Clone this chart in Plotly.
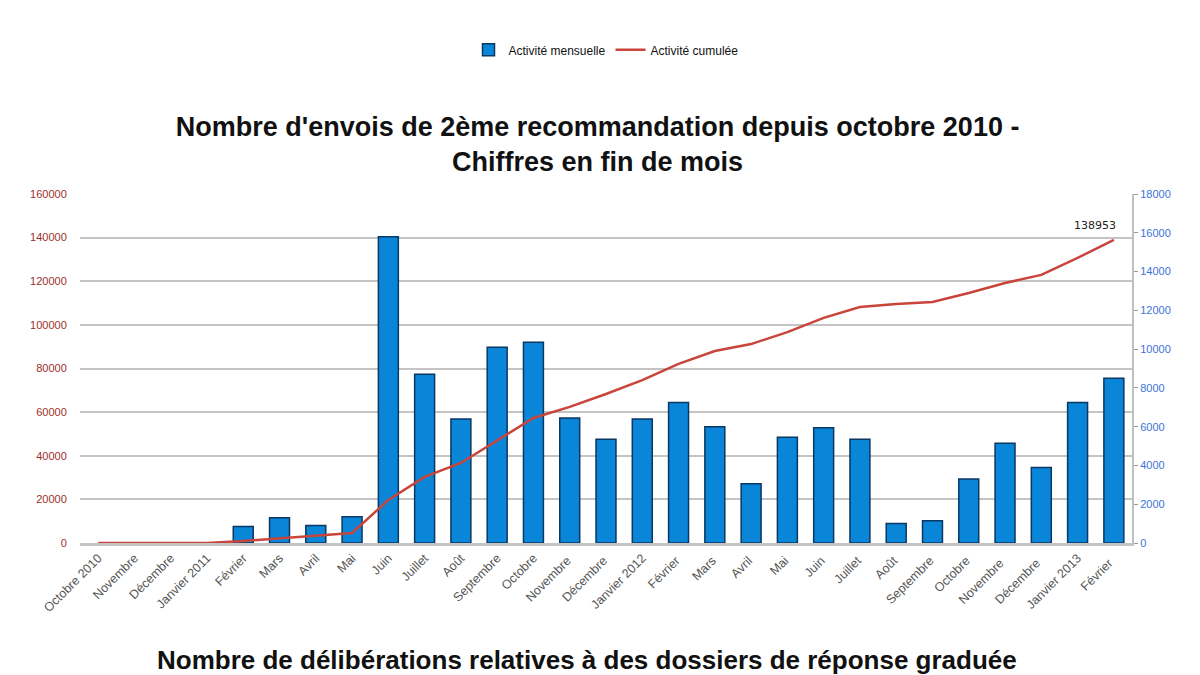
import plotly.graph_objects as go

categories = ["Octobre 2010", "Novembre", "Décembre", "Janvier 2011", "Février", "Mars", "Avril", "Mai",
              "Juin", "Juillet", "Août", "Septembre", "Octobre", "Novembre ", "Décembre ", "Janvier 2012",
              "Février ", "Mars ", "Avril ", "Mai ", "Juin ", "Juillet ", "Août ", "Septembre ", "Octobre ",
              "Novembre  ", "Décembre  ", "Janvier 2013", "Février  "]

monthly = [None, None, None, None, 850, 1300, 900, 1350, 15800, 8700, 6400, 10100, 10350, 6450, 5350, 6400,
           7250, 6000, 3050, 5450, 5950, 5350, 1000, 1150, 3300, 5150, 3900, 7250, 8500]

cumulative = [0, 0, 0, 0, 900, 2200, 3200, 4600, 19700, 30300, 36700, 47200, 57300, 62400, 68300, 74700,
              82100, 88000, 91200, 96700, 103200, 108200, 109600, 110500, 114600, 119200, 122900, 130700, 138953]

left_ticks = [0, 20000, 40000, 60000, 80000, 100000, 120000, 140000, 160000]
right_ticks = [0, 2000, 4000, 6000, 8000, 10000, 12000, 14000, 16000, 18000]

FONT = "Liberation Sans, Arial, sans-serif"

fig = go.Figure()
fig.add_trace(go.Bar(
    x=categories, y=monthly, name="Activité mensuelle", yaxis="y",
    marker=dict(color="#0a86d8", line=dict(color="#0b3763", width=1.5)),
    width=0.55,
))
fig.add_trace(go.Scatter(
    x=categories, y=cumulative, name="Activité cumulée", yaxis="y2", mode="lines",
    line=dict(color="#c9453b", width=2.5),
))

fig.add_annotation(
    x=categories[-1], y=cumulative[-1], xref="x", yref="y2", text=str(cumulative[-1]),
    showarrow=False, xanchor="right", yanchor="bottom", xshift=4, yshift=6,
    font=dict(family="DejaVu Sans, sans-serif", size=11, color="#222222"),
)

fig.add_annotation(
    x=0.482, y=-0.335, xref="paper", yref="paper",
    text="<b>Nombre de délibérations relatives à des dossiers de réponse graduée</b>",
    showarrow=False, xanchor="center", yanchor="middle",
    font=dict(family=FONT, size=26, color="#111111"),
)

fig.update_layout(
    width=1200, height=675,
    margin=dict(l=80, r=68, t=194, b=132),
    paper_bgcolor="white", plot_bgcolor="white",
    title=dict(
        text="<b>Nombre d'envois de 2ème recommandation depuis octobre 2010 -<br>Chiffres en fin de mois</b>",
        x=0.498, xanchor="center", y=1 - 136 / 675, yanchor="middle", yref="container",
        font=dict(family=FONT, size=27, color="#111111"),
    ),
    showlegend=True,
    legend=dict(
        orientation="h", x=0.5, xanchor="center", y=1.413, yanchor="middle",
        font=dict(family=FONT, size=12, color="#111111"), bgcolor="rgba(0,0,0,0)",
    ),
    bargap=0.45,
    xaxis=dict(
        type="category", range=[-0.5, 28.5], tickangle=-45,
        tickfont=dict(family=FONT, size=12.5, color="#555555"),
        showgrid=False, showline=True, linecolor="#c4c4c4", linewidth=3,
        ticks="", fixedrange=True,
    ),
    yaxis=dict(
        side="right", range=[0, 18000], tickvals=right_ticks, tickformat="d",
        showgrid=False, zeroline=False, showline=True, linecolor="#c0c0c0", linewidth=2,
        ticks="outside", ticklen=4, tickcolor="#999999",
        tickfont=dict(family=FONT, size=11, color="#3d73d6"),
    ),
    yaxis2=dict(
        overlaying="y", side="left", range=[0, 160000], tickvals=left_ticks, tickformat="d",
        showgrid=True, gridcolor="#c4c4c4", gridwidth=2, zeroline=False,
        ticks="outside", ticklen=10, tickcolor="rgba(0,0,0,0)",
        tickfont=dict(family=FONT, size=11, color="#9c2f2a"),
    ),
)

fig.write_html("out.html")
